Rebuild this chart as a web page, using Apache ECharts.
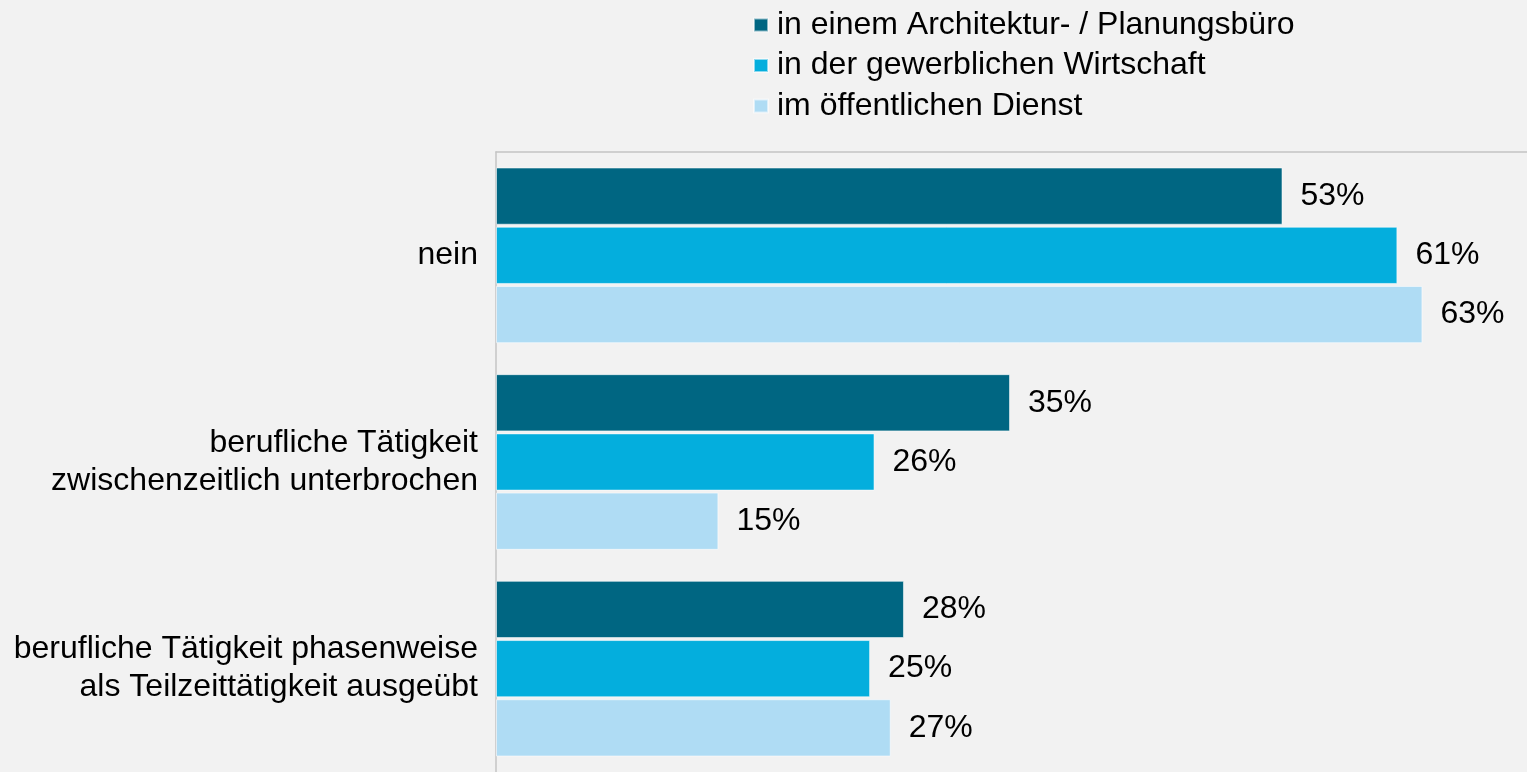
<!DOCTYPE html>
<html>
<head>
<meta charset="utf-8">
<script src="https://cdn.jsdelivr.net/npm/echarts@6/dist/echarts.min.js"></script>
<style>
html,body{margin:0;padding:0;background:#f2f2f2;}
#chart{width:1527px;height:772px;}
</style>
</head>
<body>
<div id="chart"></div>
<script>
const categories = [
  'nein',
  'berufliche Tätigkeit\nzwischenzeitlich unterbrochen',
  'berufliche Tätigkeit phasenweise\nals Teilzeittätigkeit ausgeübt'
];
const seriesNames = [
  'in einem Architektur- / Planungsbüro',
  'in der gewerblichen Wirtschaft',
  'im öffentlichen Dienst'
];
const architekturbuero = [53.4, 34.9, 27.7];
const gewerblicheWirtschaft = [61.2, 25.7, 25.4];
const oeffentlicherDienst = [62.9, 15.1, 26.8];
const colors = ['#006682', '#04aedd', '#afdcf4'];

const FONT = '"Liberation Sans", Arial, Helvetica, sans-serif';
const chart = echarts.init(document.getElementById('chart'), null, {renderer: 'canvas'});

function mkSeries(name, data, color) {
  return {
    name: name,
    type: 'bar',
    data: data,
    barCategoryGap: '15%',
    barGap: '3.5%',
    itemStyle: {color: color, borderColor: 'rgba(255,255,255,0.55)', borderWidth: 1},
    label: {
      show: true,
      position: 'right',
      distance: 18,
      color: '#000',
      fontFamily: FONT,
      fontSize: 32,
      formatter: p => Math.round(p.value) + '%'
    },
    emphasis: {disabled: true}
  };
}

chart.setOption({
  backgroundColor: '#f2f2f2',
  animation: false,
  legend: {
    orient: 'vertical',
    left: 753,
    top: 9,
    padding: 0,
    itemWidth: 14,
    itemHeight: 13,
    itemGap: 8.5,
    icon: 'rect',
    textStyle: {fontFamily: FONT, fontSize: 32, lineHeight: 32, color: '#000', padding: [0,0,0,4]},
    data: seriesNames
  },
  grid: {left: 496, right: 0, top: 152, height: 626, containLabel: false},
  xAxis: {
    type: 'value',
    position: 'top',
    min: 0,
    max: 70,
    axisLine: {show: true, lineStyle: {color: '#c4c4c4', width: 1.5}},
    axisTick: {show: false},
    axisLabel: {show: false},
    splitLine: {show: false}
  },
  yAxis: {
    type: 'category',
    inverse: true,
    data: categories,
    axisLine: {show: true, lineStyle: {color: '#c4c4c4', width: 1.5}},
    axisTick: {show: false},
    axisLabel: {
      margin: 18,
      color: '#000',
      fontFamily: FONT,
      fontSize: 32,
      lineHeight: 38,
      align: 'right'
    }
  },
  series: [
    mkSeries(seriesNames[0], architekturbuero, colors[0]),
    mkSeries(seriesNames[1], gewerblicheWirtschaft, colors[1]),
    mkSeries(seriesNames[2], oeffentlicherDienst, colors[2])
  ]
});
</script>
</body>
</html>
